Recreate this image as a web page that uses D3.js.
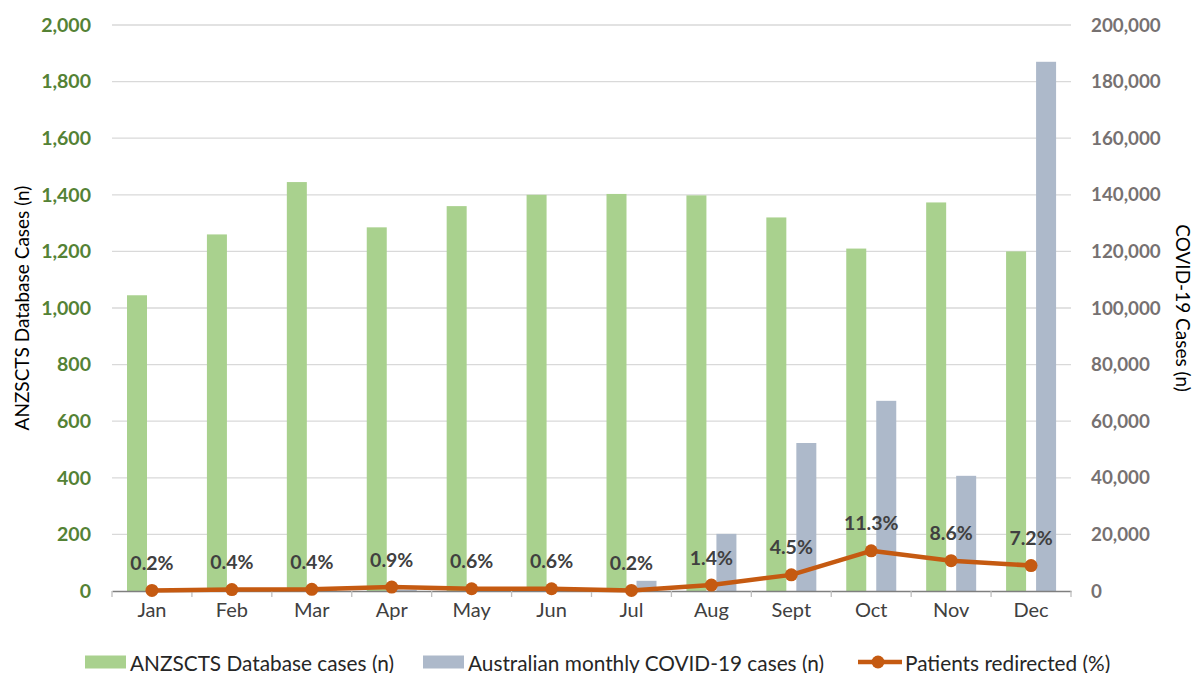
<!DOCTYPE html>
<html>
<head>
<meta charset="utf-8">
<script src="https://cdn.jsdelivr.net/npm/d3@7"></script>
<style>
  html, body { margin: 0; padding: 0; background: #fff; }
  svg { display: block; font-family: Lato, "Open Sans", sans-serif; }
</style>
</head>
<body>
<svg id="chart" width="1199" height="673"></svg>
<script>
// ---- data ----
const months = ["Jan","Feb","Mar","Apr","May","Jun","Jul","Aug","Sept","Oct","Nov","Dec"];
const anzsctsCases = [1045, 1260, 1445, 1285, 1360, 1400, 1403, 1398, 1320, 1210, 1373, 1200];
const covidCases = [300, 200, 300, 500, 300, 600, 3600, 20200, 52300, 67200, 40700, 187000];
const redirectedCount = [2, 5, 6, 14, 8, 8, 2, 21, 57, 142, 107, 90];
const redirectedPctLabels = ["0.2%","0.4%","0.4%","0.9%","0.6%","0.6%","0.2%","1.4%","4.5%","11.3%","8.6%","7.2%"];
const leftTicks = [0, 200, 400, 600, 800, 1000, 1200, 1400, 1600, 1800, 2000];
const rightTicks = [0, 20000, 40000, 60000, 80000, 100000, 120000, 140000, 160000, 180000, 200000];
const seriesNames = ["ANZSCTS Database cases (n)", "Australian monthly COVID-19 cases (n)", "Patients redirected (%)"];

// ---- styles ----
const green = "#A9D18E", blue = "#ADB9CA", orange = "#C55A11";
const margin = {left: 112, right: 1199 - 1071, top: 25, bottom: 673 - 591};
const W = 1199, H = 673;

const svg = d3.select("#chart");

const x = d3.scaleBand().domain(months).range([margin.left, W - margin.right]).padding(0);
const xSub = d3.scaleBand().domain(["a","b"]).range([15, 65]).paddingInner(1/3).paddingOuter(0);
const yL = d3.scaleLinear().domain([0, 2000]).range([H - margin.bottom, margin.top]);
const yR = d3.scaleLinear().domain([0, 200000]).range([H - margin.bottom, margin.top]);

// gridlines
svg.append("g")
  .selectAll("line").data(leftTicks.filter(d => d > 0)).join("line")
  .attr("x1", margin.left).attr("x2", W - margin.right)
  .attr("y1", d => yL(d)).attr("y2", d => yL(d))
  .attr("stroke", "#D9D9D9").attr("stroke-width", 1.3);

// left axis labels
const leftAxis = d3.axisLeft(yL).tickValues(leftTicks).tickFormat(d3.format(",")).tickSize(0).tickPadding(21);
const gL = svg.append("g").attr("transform", `translate(${margin.left},0)`).call(leftAxis);
gL.select(".domain").remove();
gL.selectAll("text").attr("fill", "#548235").attr("font-size", 19.5).attr("font-weight", "bold")
  .attr("font-family", "Lato, sans-serif");

// right axis labels
const rightAxis = d3.axisRight(yR).tickValues(rightTicks).tickFormat(d3.format(",")).tickSize(0).tickPadding(20);
const gR = svg.append("g").attr("transform", `translate(${W - margin.right},0)`).call(rightAxis);
gR.select(".domain").remove();
gR.selectAll("text").attr("fill", "#767171").attr("font-size", 18.8).attr("font-weight", "bold")
  .attr("font-family", "Lato, sans-serif");

// bars
svg.append("g").selectAll("rect").data(months).join("rect")
  .attr("x", (d) => x(d) + xSub("a"))
  .attr("width", xSub.bandwidth())
  .attr("y", (d, i) => yL(anzsctsCases[i]))
  .attr("height", (d, i) => yL(0) - yL(anzsctsCases[i]))
  .attr("fill", green);

svg.append("g").selectAll("rect").data(months).join("rect")
  .attr("x", (d) => x(d) + xSub("b"))
  .attr("width", xSub.bandwidth())
  .attr("y", (d, i) => yR(covidCases[i]))
  .attr("height", (d, i) => yR(0) - yR(covidCases[i]))
  .attr("fill", blue);

// x axis
const xAxis = d3.axisBottom(x).tickSize(0).tickPadding(12);
const gX = svg.append("g").attr("transform", `translate(0,${yL(0)})`).call(xAxis);
gX.select(".domain").attr("stroke", "#7F7F7F").attr("stroke-width", 1.5);
gX.selectAll("text").attr("fill", "#404040").attr("font-size", 20).attr("font-family", "Lato, sans-serif");
// boundary tick marks
svg.append("g").selectAll("line").data(months.concat(["__end"])).join("line")
  .attr("x1", (d, i) => i < months.length ? x(d) : x.range()[1])
  .attr("x2", (d, i) => i < months.length ? x(d) : x.range()[1])
  .attr("y1", yL(0)).attr("y2", yL(0) + 6)
  .attr("stroke", "#BFBFBF").attr("stroke-width", 1.3);

// line
const cx = d => x(d) + x.bandwidth() / 2;
const line = d3.line().x((d, i) => cx(months[i])).y(d => yL(d));
svg.append("path").datum(redirectedCount)
  .attr("d", line).attr("fill", "none").attr("stroke", orange)
  .attr("stroke-width", 4.5).attr("stroke-linejoin", "round");
svg.append("g").selectAll("circle").data(redirectedCount).join("circle")
  .attr("cx", (d, i) => cx(months[i])).attr("cy", d => yL(d))
  .attr("r", 6.5).attr("fill", orange);

// percentage labels
svg.append("g").selectAll("text").data(redirectedCount).join("text")
  .attr("x", (d, i) => cx(months[i]))
  .attr("y", d => yL(d) - 28)
  .attr("text-anchor", "middle").attr("dominant-baseline", "central")
  .attr("font-size", 19.5).attr("font-weight", "bold").attr("fill", "#404040")
  .text((d, i) => redirectedPctLabels[i]);

// axis titles
svg.append("text")
  .attr("transform", `translate(21,${(yL(0) + yL(2000)) / 2}) rotate(-90)`)
  .attr("text-anchor", "middle").attr("dominant-baseline", "central")
  .attr("font-size", 19).attr("fill", "#000")
  .text("ANZSCTS Database Cases (n)");
svg.append("text")
  .attr("transform", `translate(1183,${(yL(0) + yL(2000)) / 2}) rotate(90)`)
  .attr("text-anchor", "middle").attr("dominant-baseline", "central")
  .attr("font-size", 19).attr("fill", "#000")
  .text("COVID-19 Cases (n)");

// legend
const legY = 662;
const legFs = 20.8;
const leg = svg.append("g");
leg.append("rect").attr("x", 85).attr("y", legY - 6.5).attr("width", 41).attr("height", 13).attr("fill", green);
leg.append("text").attr("x", 130).attr("y", legY).attr("dominant-baseline", "central")
  .attr("font-size", legFs).attr("fill", "#262626").text(seriesNames[0]);
leg.append("rect").attr("x", 423).attr("y", legY - 6.5).attr("width", 41).attr("height", 13).attr("fill", blue);
leg.append("text").attr("x", 468).attr("y", legY).attr("dominant-baseline", "central")
  .attr("font-size", legFs).attr("fill", "#262626").text(seriesNames[1]);
leg.append("line").attr("x1", 858).attr("x2", 902).attr("y1", legY).attr("y2", legY)
  .attr("stroke", orange).attr("stroke-width", 4.5);
leg.append("circle").attr("cx", 878).attr("cy", legY).attr("r", 6.5).attr("fill", orange);
leg.append("text").attr("x", 905).attr("y", legY).attr("dominant-baseline", "central")
  .attr("font-size", legFs).attr("fill", "#262626").text(seriesNames[2]);
</script>
</body>
</html>
